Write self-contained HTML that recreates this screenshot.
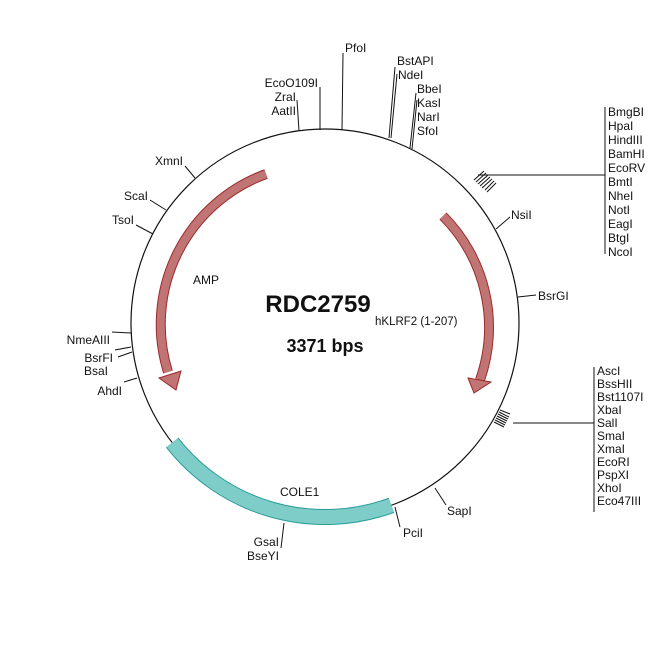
<!DOCTYPE html>
<html><head><meta charset="utf-8"><style>
html,body{margin:0;padding:0;background:#fff}
svg{display:block}
text{font-family:"Liberation Sans",Arial,sans-serif;font-size:12px;fill:#111}
</style></head><body>
<svg width="650" height="650" viewBox="0 0 650 650" xmlns="http://www.w3.org/2000/svg">
<circle cx="325" cy="323" r="194" fill="none" stroke="#111" stroke-width="1.2"/>
<!-- COLE1 -->
<path d="M172.2,442.6 A194,194 0 0 0 391.4,505.3" fill="none" stroke="#2a9c98" stroke-width="16"/>
<path d="M172.2,442.6 A194,194 0 0 0 391.4,505.3" fill="none" stroke="#7fcdc9" stroke-width="14"/>
<!-- AMP arrow -->
<path d="M266,174 A160,160 0 0 0 168,372" fill="none" stroke="#9b2a2a" stroke-width="10"/>
<path d="M266,174 A160,160 0 0 0 168,372" fill="none" stroke="#c07474" stroke-width="8"/>
<polygon points="159,378 181,371 176,390" fill="#c07474" stroke="#9b2a2a" stroke-width="1"/>
<!-- right arrow -->
<path d="M443,216 A158,158 0 0 1 480,380" fill="none" stroke="#9b2a2a" stroke-width="10"/>
<path d="M443,216 A158,158 0 0 1 480,380" fill="none" stroke="#c07474" stroke-width="8"/>
<polygon points="468,378 491,382 474,393" fill="#c07474" stroke="#9b2a2a" stroke-width="1"/>
<g stroke="#111" stroke-width="1" fill="none">
<line x1="299" y1="131" x2="297" y2="100"/>
<line x1="320" y1="130" x2="320" y2="87"/>
<line x1="342" y1="130" x2="343" y2="53"/>
<line x1="389" y1="138" x2="395" y2="67"/>
<line x1="391" y1="138" x2="397" y2="74"/>
<line x1="410" y1="148" x2="416" y2="93"/>
<line x1="412" y1="149" x2="417" y2="100"/>
<line x1="478" y1="175" x2="605" y2="175"/>
<line x1="605" y1="107" x2="605" y2="254"/>
<line x1="484" y1="171" x2="474" y2="180"/>
<line x1="486" y1="173" x2="476" y2="182"/>
<line x1="488" y1="175" x2="478" y2="184"/>
<line x1="490" y1="177" x2="480" y2="186"/>
<line x1="492" y1="179" x2="482" y2="188"/>
<line x1="494" y1="181" x2="485" y2="190"/>
<line x1="496" y1="183" x2="487" y2="192"/>
<line x1="513" y1="423" x2="594" y2="423"/>
<line x1="594" y1="367" x2="594" y2="512"/>
<line x1="500" y1="410" x2="510" y2="414"/>
<line x1="499" y1="412" x2="509" y2="417"/>
<line x1="498" y1="414" x2="508" y2="419"/>
<line x1="497" y1="416" x2="507" y2="421"/>
<line x1="496" y1="418" x2="506" y2="423"/>
<line x1="495" y1="420" x2="505" y2="425"/>
<line x1="494" y1="422" x2="504" y2="427"/>
<line x1="496" y1="229" x2="510" y2="217"/>
<line x1="518" y1="297" x2="536" y2="295"/>
<line x1="435" y1="488" x2="446" y2="505"/>
<line x1="395" y1="507" x2="400" y2="527"/>
<line x1="284" y1="523" x2="281" y2="548"/>
<line x1="195" y1="178" x2="185" y2="166"/>
<line x1="166" y1="210" x2="150" y2="200"/>
<line x1="153" y1="234" x2="136" y2="225"/>
<line x1="131" y1="333" x2="112" y2="332"/>
<line x1="131" y1="347" x2="115" y2="350"/>
<line x1="132" y1="352" x2="118" y2="357"/>
<line x1="137" y1="378" x2="124" y2="382"/>
</g>
<text x="345" y="52">PfoI</text>
<text x="397" y="65">BstAPI</text>
<text x="398" y="79">NdeI</text>
<text x="417" y="93">BbeI</text>
<text x="417" y="107">KasI</text>
<text x="417" y="121">NarI</text>
<text x="417" y="135">SfoI</text>
<text x="318" y="87" text-anchor="end">EcoO109I</text>
<text x="296" y="101" text-anchor="end">ZraI</text>
<text x="296" y="115" text-anchor="end">AatII</text>
<g>
<text x="608" y="116">BmgBI</text><text x="608" y="130">HpaI</text><text x="608" y="144">HindIII</text><text x="608" y="158">BamHI</text><text x="608" y="172">EcoRV</text><text x="608" y="186">BmtI</text><text x="608" y="200">NheI</text><text x="608" y="214">NotI</text><text x="608" y="228">EagI</text><text x="608" y="242">BtgI</text><text x="608" y="256">NcoI</text>
</g>
<g>
<text x="597" y="375">AscI</text><text x="597" y="388">BssHII</text><text x="597" y="401">Bst1107I</text><text x="597" y="414">XbaI</text><text x="597" y="427">SalI</text><text x="597" y="440">SmaI</text><text x="597" y="453">XmaI</text><text x="597" y="466">EcoRI</text><text x="597" y="479">PspXI</text><text x="597" y="492">XhoI</text><text x="597" y="505">Eco47III</text>
</g>
<text x="511" y="219">NsiI</text>
<text x="538" y="300">BsrGI</text>
<text x="447" y="515">SapI</text>
<text x="403" y="537">PciI</text>
<text x="279" y="546" text-anchor="end">GsaI</text>
<text x="279" y="560" text-anchor="end">BseYI</text>
<text x="183" y="165" text-anchor="end">XmnI</text>
<text x="148" y="200" text-anchor="end">ScaI</text>
<text x="134" y="224" text-anchor="end">TsoI</text>
<text x="110" y="344" text-anchor="end">NmeAIII</text>
<text x="113" y="362" text-anchor="end">BsrFI</text>
<text x="108" y="375" text-anchor="end">BsaI</text>
<text x="122" y="395" text-anchor="end">AhdI</text>
<text x="193" y="284">AMP</text>
<text x="280" y="496">COLE1</text>
<text x="375" y="325" style="font-size:11.5px">hKLRF2 (1-207)</text>
<text x="318" y="312" text-anchor="middle" style="font-size:24px;font-weight:bold">RDC2759</text>
<text x="325" y="352" text-anchor="middle" style="font-size:18px;font-weight:bold">3371 bps</text>
</svg>
</body></html>
